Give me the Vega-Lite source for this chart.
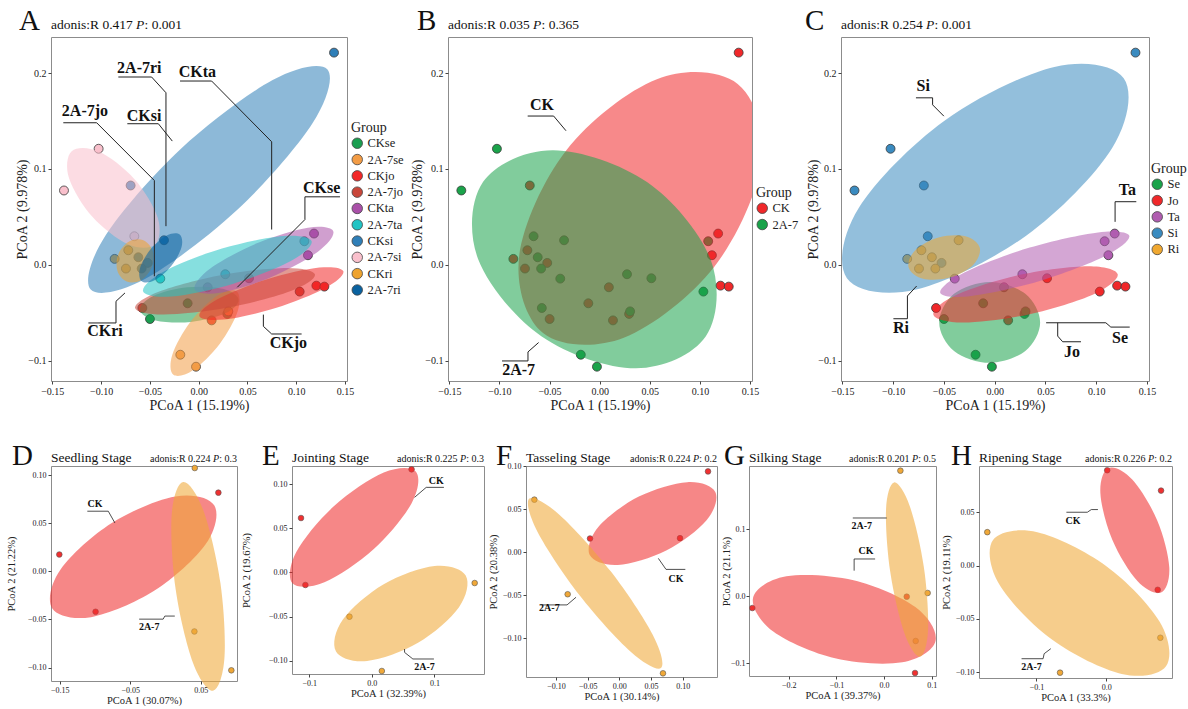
{
"$schema": "https://vega.github.io/schema/vega-lite/v6.json",
"padding": {"left": 5, "top": 6, "right": 0, "bottom": 0},
"background": "white",
"config": {
 "font": "Liberation Serif",
 "view": {"stroke": "#8c8c8c", "strokeWidth": 1},
 "axis": {"grid": false, "domain": false, "tickColor": "#444", "tickSize": 3, "labelColor": "#222", "titleColor": "#222", "titleFontWeight": "normal", "labelFont": "Liberation Serif", "titleFont": "Liberation Serif", "labelPadding": 2, "titlePadding": 2},
 "legend": {"titleFont": "Liberation Serif", "labelFont": "Liberation Serif", "titleFontWeight": "normal", "titleColor": "#222", "labelColor": "#222", "offset": 4, "padding": 0, "layout": {"right": {"anchor": "middle"}}},
 "text": {"font": "Liberation Serif", "color": "#111"}
},
"datasets": {
 "pts": [
  {"grp":"CKse","trt":"CK","stg":"Se","x":-0.0113,"y":-0.0400},
  {"grp":"CKse","trt":"CK","stg":"Se","x":-0.0499,"y":-0.0564},
  {"grp":"CKse","trt":"CK","stg":"Se","x":0.0294,"y":-0.0511},
  {"grp":"2A-7se","trt":"2A-7","stg":"Se","x":0.0304,"y":-0.0484},
  {"grp":"2A-7se","trt":"2A-7","stg":"Se","x":-0.0188,"y":-0.0936},
  {"grp":"2A-7se","trt":"2A-7","stg":"Se","x":-0.0027,"y":-0.1061},
  {"grp":"CKjo","trt":"CK","stg":"Jo","x":0.1206,"y":-0.0216},
  {"grp":"CKjo","trt":"CK","stg":"Jo","x":0.1288,"y":-0.0226},
  {"grp":"CKjo","trt":"CK","stg":"Jo","x":0.0133,"y":-0.0578},
  {"grp":"2A-7jo","trt":"2A-7","stg":"Jo","x":0.0516,"y":-0.0139},
  {"grp":"2A-7jo","trt":"2A-7","stg":"Jo","x":0.1035,"y":-0.0278},
  {"grp":"2A-7jo","trt":"2A-7","stg":"Jo","x":-0.0577,"y":-0.0449},
  {"grp":"CKta","trt":"CK","stg":"Ta","x":0.1182,"y":0.0327},
  {"grp":"CKta","trt":"CK","stg":"Ta","x":0.1120,"y":0.0101},
  {"grp":"CKta","trt":"CK","stg":"Ta","x":0.0092,"y":-0.0233},
  {"grp":"2A-7ta","trt":"2A-7","stg":"Ta","x":-0.0393,"y":-0.0143},
  {"grp":"2A-7ta","trt":"2A-7","stg":"Ta","x":0.0273,"y":-0.0097},
  {"grp":"2A-7ta","trt":"2A-7","stg":"Ta","x":0.1083,"y":0.0247},
  {"grp":"CKsi","trt":"CK","stg":"Si","x":0.1387,"y":0.2213},
  {"grp":"CKsi","trt":"CK","stg":"Si","x":-0.0697,"y":0.0828},
  {"grp":"CKsi","trt":"CK","stg":"Si","x":-0.0523,"y":0.0021},
  {"grp":"2A-7si","trt":"2A-7","stg":"Si","x":-0.1025,"y":0.1211},
  {"grp":"2A-7si","trt":"2A-7","stg":"Si","x":-0.1380,"y":0.0776},
  {"grp":"2A-7si","trt":"2A-7","stg":"Si","x":-0.0659,"y":0.0299},
  {"grp":"CKri","trt":"CK","stg":"Ri","x":-0.0721,"y":0.0153},
  {"grp":"CKri","trt":"CK","stg":"Ri","x":-0.0861,"y":0.0063},
  {"grp":"CKri","trt":"CK","stg":"Ri","x":-0.0745,"y":-0.0038},
  {"grp":"2A-7ri","trt":"2A-7","stg":"Ri","x":-0.0355,"y":0.0257},
  {"grp":"2A-7ri","trt":"2A-7","stg":"Ri","x":-0.0618,"y":0.0080},
  {"grp":"2A-7ri","trt":"2A-7","stg":"Ri","x":-0.0584,"y":-0.0038}
 ],
 "sp": [
  {"p":"D","grp":"CK","x":-0.1505,"y":0.0175},{"p":"D","grp":"CK","x":-0.0991,"y":-0.0420},{"p":"D","grp":"CK","x":0.0750,"y":0.0818},
  {"p":"D","grp":"2A-7","x":0.0415,"y":0.1074},{"p":"D","grp":"2A-7","x":0.0410,"y":-0.0625},{"p":"D","grp":"2A-7","x":0.0934,"y":-0.1029},
  {"p":"E","grp":"CK","x":0.0635,"y":0.1166},{"p":"E","grp":"CK","x":-0.1131,"y":0.0615},{"p":"E","grp":"CK","x":-0.1061,"y":-0.0143},
  {"p":"E","grp":"2A-7","x":0.1643,"y":-0.0121},{"p":"E","grp":"2A-7","x":-0.0357,"y":-0.0502},{"p":"E","grp":"2A-7","x":0.0160,"y":-0.1117},
  {"p":"F","grp":"CK","x":0.1400,"y":0.0942},{"p":"F","grp":"CK","x":-0.0463,"y":0.0162},{"p":"F","grp":"CK","x":0.0958,"y":0.0166},
  {"p":"F","grp":"2A-7","x":-0.1342,"y":0.0614},{"p":"F","grp":"2A-7","x":-0.0816,"y":-0.0486},{"p":"F","grp":"2A-7","x":0.0689,"y":-0.1405},
  {"p":"G","grp":"CK","x":-0.2763,"y":-0.0175},{"p":"G","grp":"CK","x":0.0649,"y":-0.1147},{"p":"G","grp":"CK","x":0.0475,"y":-0.0005},
  {"p":"G","grp":"2A-7","x":0.0342,"y":0.1880},{"p":"G","grp":"2A-7","x":0.0914,"y":0.0050},{"p":"G","grp":"2A-7","x":0.0663,"y":-0.0668},
  {"p":"H","grp":"CK","x":0.0014,"y":0.0894},{"p":"H","grp":"CK","x":0.0786,"y":0.0703},{"p":"H","grp":"CK","x":0.0738,"y":-0.0228},
  {"p":"H","grp":"2A-7","x":-0.1705,"y":0.0313},{"p":"H","grp":"2A-7","x":0.0776,"y":-0.0678},{"p":"H","grp":"2A-7","x":-0.0662,"y":-0.1006}
 ],
 "ell": [
  {"p":"A","grp":"CKse","k":0,"x":0.0409,"y":-0.0362},{"p":"A","grp":"CKse","k":1,"x":0.0273,"y":-0.0505},{"p":"A","grp":"CKse","k":2,"x":-0.0079,"y":-0.0595},{"p":"A","grp":"CKse","k":3,"x":-0.0441,"y":-0.0579},{"p":"A","grp":"CKse","k":4,"x":-0.0601,"y":-0.0466},{"p":"A","grp":"CKse","k":5,"x":-0.0465,"y":-0.0323},{"p":"A","grp":"CKse","k":6,"x":-0.0113,"y":-0.0233},{"p":"A","grp":"CKse","k":7,"x":0.0249,"y":-0.0249},
  {"p":"A","grp":"2A-7se","k":0,"x":0.0389,"y":-0.0275},{"p":"A","grp":"2A-7se","k":1,"x":0.0400,"y":-0.0484},{"p":"A","grp":"2A-7se","k":2,"x":0.0215,"y":-0.0825},{"p":"A","grp":"2A-7se","k":3,"x":-0.0058,"y":-0.1099},{"p":"A","grp":"2A-7se","k":4,"x":-0.0259,"y":-0.1145},{"p":"A","grp":"2A-7se","k":5,"x":-0.0270,"y":-0.0936},{"p":"A","grp":"2A-7se","k":6,"x":-0.0085,"y":-0.0595},{"p":"A","grp":"2A-7se","k":7,"x":0.0188,"y":-0.0321},
  {"p":"A","grp":"CKjo","k":0,"x":0.1483,"y":-0.0066},{"p":"A","grp":"CKjo","k":1,"x":0.1298,"y":-0.0240},{"p":"A","grp":"CKjo","k":2,"x":0.0789,"y":-0.0449},{"p":"A","grp":"CKjo","k":3,"x":0.0254,"y":-0.0570},{"p":"A","grp":"CKjo","k":4,"x":0.0007,"y":-0.0532},{"p":"A","grp":"CKjo","k":5,"x":0.0192,"y":-0.0358},{"p":"A","grp":"CKjo","k":6,"x":0.0701,"y":-0.0149},{"p":"A","grp":"CKjo","k":7,"x":0.1236,"y":-0.0028},
  {"p":"A","grp":"2A-7jo","k":0,"x":0.1192,"y":-0.0101},{"p":"A","grp":"2A-7jo","k":1,"x":0.0944,"y":-0.0272},{"p":"A","grp":"2A-7jo","k":2,"x":0.0301,"y":-0.0445},{"p":"A","grp":"2A-7jo","k":3,"x":-0.0360,"y":-0.0518},{"p":"A","grp":"2A-7jo","k":4,"x":-0.0652,"y":-0.0449},{"p":"A","grp":"2A-7jo","k":5,"x":-0.0404,"y":-0.0278},{"p":"A","grp":"2A-7jo","k":6,"x":0.0239,"y":-0.0105},{"p":"A","grp":"2A-7jo","k":7,"x":0.0900,"y":-0.0032},
  {"p":"A","grp":"CKta","k":0,"x":0.1379,"y":0.0352},{"p":"A","grp":"CKta","k":1,"x":0.1222,"y":0.0138},{"p":"A","grp":"CKta","k":2,"x":0.0741,"y":-0.0128},{"p":"A","grp":"CKta","k":3,"x":0.0218,"y":-0.0290},{"p":"A","grp":"CKta","k":4,"x":-0.0041,"y":-0.0254},{"p":"A","grp":"CKta","k":5,"x":0.0116,"y":-0.0040},{"p":"A","grp":"CKta","k":6,"x":0.0597,"y":0.0226},{"p":"A","grp":"CKta","k":7,"x":0.1120,"y":0.0388},
  {"p":"A","grp":"2A-7ta","k":0,"x":0.1158,"y":0.0247},{"p":"A","grp":"2A-7ta","k":1,"x":0.0944,"y":0.0040},{"p":"A","grp":"2A-7ta","k":2,"x":0.0349,"y":-0.0198},{"p":"A","grp":"2A-7ta","k":3,"x":-0.0278,"y":-0.0329},{"p":"A","grp":"2A-7ta","k":4,"x":-0.0570,"y":-0.0275},{"p":"A","grp":"2A-7ta","k":5,"x":-0.0356,"y":-0.0068},{"p":"A","grp":"2A-7ta","k":6,"x":0.0239,"y":0.0170},{"p":"A","grp":"2A-7ta","k":7,"x":0.0866,"y":0.0301},
  {"p":"A","grp":"CKsi","k":0,"x":0.1318,"y":0.2039},{"p":"A","grp":"CKsi","k":1,"x":0.1168,"y":0.1479},{"p":"A","grp":"CKsi","k":2,"x":0.0396,"y":0.0574},{"p":"A","grp":"CKsi","k":3,"x":-0.0546,"y":-0.0145},{"p":"A","grp":"CKsi","k":4,"x":-0.1106,"y":-0.0257},{"p":"A","grp":"CKsi","k":5,"x":-0.0956,"y":0.0303},{"p":"A","grp":"CKsi","k":6,"x":-0.0184,"y":0.1208},{"p":"A","grp":"CKsi","k":7,"x":0.0758,"y":0.1927},
  {"p":"A","grp":"2A-7si","k":0,"x":-0.0447,"y":0.0212},{"p":"A","grp":"2A-7si","k":1,"x":-0.0420,"y":0.0495},{"p":"A","grp":"2A-7si","k":2,"x":-0.0659,"y":0.0897},{"p":"A","grp":"2A-7si","k":3,"x":-0.1024,"y":0.1183},{"p":"A","grp":"2A-7si","k":4,"x":-0.1301,"y":0.1186},{"p":"A","grp":"2A-7si","k":5,"x":-0.1328,"y":0.0903},{"p":"A","grp":"2A-7si","k":6,"x":-0.1089,"y":0.0501},{"p":"A","grp":"2A-7si","k":7,"x":-0.0724,"y":0.0215},
  {"p":"A","grp":"CKri","k":0,"x":-0.0567,"y":0.0258},{"p":"A","grp":"CKri","k":1,"x":-0.0471,"y":0.0145},{"p":"A","grp":"CKri","k":2,"x":-0.0481,"y":-0.0028},{"p":"A","grp":"CKri","k":3,"x":-0.0591,"y":-0.0160},{"p":"A","grp":"CKri","k":4,"x":-0.0737,"y":-0.0174},{"p":"A","grp":"CKri","k":5,"x":-0.0833,"y":-0.0061},{"p":"A","grp":"CKri","k":6,"x":-0.0823,"y":0.0112},{"p":"A","grp":"CKri","k":7,"x":-0.0713,"y":0.0244},
  {"p":"A","grp":"2A-7ri","k":0,"x":-0.0194,"y":0.0317},{"p":"A","grp":"2A-7ri","k":1,"x":-0.0176,"y":0.0184},{"p":"A","grp":"2A-7ri","k":2,"x":-0.0283,"y":-0.0014},{"p":"A","grp":"2A-7ri","k":3,"x":-0.0452,"y":-0.0161},{"p":"A","grp":"2A-7ri","k":4,"x":-0.0584,"y":-0.0171},{"p":"A","grp":"2A-7ri","k":5,"x":-0.0602,"y":-0.0038},{"p":"A","grp":"2A-7ri","k":6,"x":-0.0495,"y":0.0160},{"p":"A","grp":"2A-7ri","k":7,"x":-0.0326,"y":0.0307},
  {"p":"B","grp":"CK","k":0,"x":0.1377,"y":0.1887},{"p":"B","grp":"CK","k":1,"x":0.1614,"y":0.1078},{"p":"B","grp":"CK","k":2,"x":0.1144,"y":-0.0018},{"p":"B","grp":"CK","k":3,"x":0.0241,"y":-0.0758},{"p":"B","grp":"CK","k":4,"x":-0.0565,"y":-0.0709},{"p":"B","grp":"CK","k":5,"x":-0.0802,"y":0.0100},{"p":"B","grp":"CK","k":6,"x":-0.0332,"y":0.1196},{"p":"B","grp":"CK","k":7,"x":0.0571,"y":0.1936},
  {"p":"B","grp":"2A-7","k":0,"x":0.1058,"y":-0.0747},{"p":"B","grp":"2A-7","k":1,"x":0.0359,"y":-0.1078},{"p":"B","grp":"2A-7","k":2,"x":-0.0582,"y":-0.0743},{"p":"B","grp":"2A-7","k":3,"x":-0.1213,"y":0.0062},{"p":"B","grp":"2A-7","k":4,"x":-0.1164,"y":0.0865},{"p":"B","grp":"2A-7","k":5,"x":-0.0465,"y":0.1196},{"p":"B","grp":"2A-7","k":6,"x":0.0476,"y":0.0861},{"p":"B","grp":"2A-7","k":7,"x":0.1107,"y":0.0056},
  {"p":"C","grp":"Se","k":0,"x":0.0448,"y":-0.0599},{"p":"C","grp":"Se","k":1,"x":0.0302,"y":-0.0897},{"p":"C","grp":"Se","k":2,"x":-0.0049,"y":-0.1021},{"p":"C","grp":"Se","k":3,"x":-0.0400,"y":-0.0897},{"p":"C","grp":"Se","k":4,"x":-0.0546,"y":-0.0599},{"p":"C","grp":"Se","k":5,"x":-0.0400,"y":-0.0301},{"p":"C","grp":"Se","k":6,"x":-0.0049,"y":-0.0177},{"p":"C","grp":"Se","k":7,"x":0.0302,"y":-0.0301},
  {"p":"C","grp":"Jo","k":0,"x":0.1212,"y":-0.0098},{"p":"C","grp":"Jo","k":1,"x":0.0976,"y":-0.0305},{"p":"C","grp":"Jo","k":2,"x":0.0346,"y":-0.0513},{"p":"C","grp":"Jo","k":3,"x":-0.0308,"y":-0.0600},{"p":"C","grp":"Jo","k":4,"x":-0.0604,"y":-0.0516},{"p":"C","grp":"Jo","k":5,"x":-0.0368,"y":-0.0309},{"p":"C","grp":"Jo","k":6,"x":0.0262,"y":-0.0101},{"p":"C","grp":"Jo","k":7,"x":0.0916,"y":-0.0014},
  {"p":"C","grp":"Ta","k":0,"x":0.1326,"y":0.0303},{"p":"C","grp":"Ta","k":1,"x":0.1088,"y":0.0093},{"p":"C","grp":"Ta","k":2,"x":0.0444,"y":-0.0167},{"p":"C","grp":"Ta","k":3,"x":-0.0229,"y":-0.0325},{"p":"C","grp":"Ta","k":4,"x":-0.0536,"y":-0.0289},{"p":"C","grp":"Ta","k":5,"x":-0.0298,"y":-0.0079},{"p":"C","grp":"Ta","k":6,"x":0.0346,"y":0.0181},{"p":"C","grp":"Ta","k":7,"x":0.1019,"y":0.0339},
  {"p":"C","grp":"Si","k":0,"x":0.1271,"y":0.1946},{"p":"C","grp":"Si","k":1,"x":0.1156,"y":0.1217},{"p":"C","grp":"Si","k":2,"x":0.0310,"y":0.0305},{"p":"C","grp":"Si","k":3,"x":-0.0772,"y":-0.0256},{"p":"C","grp":"Si","k":4,"x":-0.1455,"y":-0.0138},{"p":"C","grp":"Si","k":5,"x":-0.1340,"y":0.0591},{"p":"C","grp":"Si","k":6,"x":-0.0494,"y":0.1503},{"p":"C","grp":"Si","k":7,"x":0.0588,"y":0.2064},
  {"p":"C","grp":"Ri","k":0,"x":-0.0147,"y":0.0182},{"p":"C","grp":"Ri","k":1,"x":-0.0210,"y":0.0003},{"p":"C","grp":"Ri","k":2,"x":-0.0441,"y":-0.0132},{"p":"C","grp":"Ri","k":3,"x":-0.0705,"y":-0.0145},{"p":"C","grp":"Ri","k":4,"x":-0.0847,"y":-0.0028},{"p":"C","grp":"Ri","k":5,"x":-0.0784,"y":0.0151},{"p":"C","grp":"Ri","k":6,"x":-0.0553,"y":0.0286},{"p":"C","grp":"Ri","k":7,"x":-0.0289,"y":0.0299},
  {"p":"D","grp":"CK","k":0,"x":0.0691,"y":0.0686},{"p":"D","grp":"CK","k":1,"x":0.0569,"y":0.0281},{"p":"D","grp":"CK","k":2,"x":-0.0155,"y":-0.0200},{"p":"D","grp":"CK","k":3,"x":-0.1056,"y":-0.0476},{"p":"D","grp":"CK","k":4,"x":-0.1607,"y":-0.0384},{"p":"D","grp":"CK","k":5,"x":-0.1485,"y":0.0021},{"p":"D","grp":"CK","k":6,"x":-0.0761,"y":0.0502},{"p":"D","grp":"CK","k":7,"x":0.0140,"y":0.0778},
  {"p":"D","grp":"2A-7","k":0,"x":0.0250,"y":0.0929},{"p":"D","grp":"2A-7","k":1,"x":0.0536,"y":0.0635},{"p":"D","grp":"2A-7","k":2,"x":0.0779,"y":-0.0122},{"p":"D","grp":"2A-7","k":3,"x":0.0836,"y":-0.0899},{"p":"D","grp":"2A-7","k":4,"x":0.0674,"y":-0.1241},{"p":"D","grp":"2A-7","k":5,"x":0.0388,"y":-0.0947},{"p":"D","grp":"2A-7","k":6,"x":0.0145,"y":-0.0190},{"p":"D","grp":"2A-7","k":7,"x":0.0088,"y":0.0587},
  {"p":"E","grp":"CK","k":0,"x":0.0702,"y":0.1142},{"p":"E","grp":"CK","k":1,"x":0.0636,"y":0.0783},{"p":"E","grp":"CK","k":2,"x":0.0032,"y":0.0264},{"p":"E","grp":"CK","k":3,"x":-0.0757,"y":-0.0112},{"p":"E","grp":"CK","k":4,"x":-0.1268,"y":-0.0124},{"p":"E","grp":"CK","k":5,"x":-0.1202,"y":0.0235},{"p":"E","grp":"CK","k":6,"x":-0.0598,"y":0.0754},{"p":"E","grp":"CK","k":7,"x":0.0191,"y":0.1130},
  {"p":"E","grp":"2A-7","k":0,"x":0.1500,"y":-0.0037},{"p":"E","grp":"2A-7","k":1,"x":0.1390,"y":-0.0397},{"p":"E","grp":"2A-7","k":2,"x":0.0738,"y":-0.0797},{"p":"E","grp":"2A-7","k":3,"x":-0.0075,"y":-0.1003},{"p":"E","grp":"2A-7","k":4,"x":-0.0572,"y":-0.0895},{"p":"E","grp":"2A-7","k":5,"x":-0.0462,"y":-0.0535},{"p":"E","grp":"2A-7","k":6,"x":0.0190,"y":-0.0135},{"p":"E","grp":"2A-7","k":7,"x":0.1003,"y":0.0071},
  {"p":"F","grp":"CK","k":0,"x":0.1515,"y":0.0703},{"p":"F","grp":"CK","k":1,"x":0.1377,"y":0.0374},{"p":"F","grp":"CK","k":2,"x":0.0740,"y":0.0023},{"p":"F","grp":"CK","k":3,"x":-0.0024,"y":-0.0145},{"p":"F","grp":"CK","k":4,"x":-0.0467,"y":-0.0031},{"p":"F","grp":"CK","k":5,"x":-0.0329,"y":0.0298},{"p":"F","grp":"CK","k":6,"x":0.0308,"y":0.0649},{"p":"F","grp":"CK","k":7,"x":0.1072,"y":0.0817},
  {"p":"F","grp":"2A-7","k":0,"x":-0.1421,"y":0.0626},{"p":"F","grp":"2A-7","k":1,"x":-0.0943,"y":0.0436},{"p":"F","grp":"2A-7","k":2,"x":-0.0136,"y":-0.0220},{"p":"F","grp":"2A-7","k":3,"x":0.0527,"y":-0.0957},{"p":"F","grp":"2A-7","k":4,"x":0.0657,"y":-0.1344},{"p":"F","grp":"2A-7","k":5,"x":0.0179,"y":-0.1154},{"p":"F","grp":"2A-7","k":6,"x":-0.0628,"y":-0.0498},{"p":"F","grp":"2A-7","k":7,"x":-0.1291,"y":0.0239},
  {"p":"G","grp":"CK","k":0,"x":0.1079,"y":-0.0669},{"p":"G","grp":"CK","k":1,"x":0.0382,"y":-0.0987},{"p":"G","grp":"CK","k":2,"x":-0.1028,"y":-0.0928},{"p":"G","grp":"CK","k":3,"x":-0.2324,"y":-0.0527},{"p":"G","grp":"CK","k":4,"x":-0.2747,"y":-0.0019},{"p":"G","grp":"CK","k":5,"x":-0.2050,"y":0.0299},{"p":"G","grp":"CK","k":6,"x":-0.0640,"y":0.0240},{"p":"G","grp":"CK","k":7,"x":0.0656,"y":-0.0161},
  {"p":"G","grp":"2A-7","k":0,"x":0.0210,"y":0.1705},{"p":"G","grp":"2A-7","k":1,"x":0.0539,"y":0.1349},{"p":"G","grp":"2A-7","k":2,"x":0.0834,"y":0.0438},{"p":"G","grp":"2A-7","k":3,"x":0.0923,"y":-0.0495},{"p":"G","grp":"2A-7","k":4,"x":0.0754,"y":-0.0903},{"p":"G","grp":"2A-7","k":5,"x":0.0425,"y":-0.0547},{"p":"G","grp":"2A-7","k":6,"x":0.0130,"y":0.0364},{"p":"G","grp":"2A-7","k":7,"x":0.0041,"y":0.1297},
  {"p":"H","grp":"CK","k":0,"x":0.0786,"y":-0.0253},{"p":"H","grp":"CK","k":1,"x":0.0447,"y":-0.0145},{"p":"H","grp":"CK","k":2,"x":0.0087,"y":0.0242},{"p":"H","grp":"CK","k":3,"x":-0.0084,"y":0.0681},{"p":"H","grp":"CK","k":4,"x":0.0034,"y":0.0915},{"p":"H","grp":"CK","k":5,"x":0.0373,"y":0.0807},{"p":"H","grp":"CK","k":6,"x":0.0733,"y":0.0420},{"p":"H","grp":"CK","k":7,"x":0.0904,"y":-0.0019},
  {"p":"H","grp":"2A-7","k":0,"x":0.0857,"y":-0.0946},{"p":"H","grp":"2A-7","k":1,"x":0.0222,"y":-0.1018},{"p":"H","grp":"2A-7","k":2,"x":-0.0768,"y":-0.0700},{"p":"H","grp":"2A-7","k":3,"x":-0.1532,"y":-0.0179},{"p":"H","grp":"2A-7","k":4,"x":-0.1623,"y":0.0240},{"p":"H","grp":"2A-7","k":5,"x":-0.0988,"y":0.0312},{"p":"H","grp":"2A-7","k":6,"x":0.0002,"y":-0.0006},{"p":"H","grp":"2A-7","k":7,"x":0.0766,"y":-0.0527}
 ],
 "ldr": [
  {"p":"A","g":"2A-7ri","k":0,"x":-0.0823,"y":0.1959},{"p":"A","g":"2A-7ri","k":1,"x":-0.0482,"y":0.1959},{"p":"A","g":"2A-7ri","k":2,"x":-0.0335,"y":0.1795},{"p":"A","g":"2A-7ri","k":3,"x":-0.0335,"y":0.0404},
  {"p":"A","g":"CKta","k":0,"x":-0.0191,"y":0.1917},{"p":"A","g":"CKta","k":1,"x":0.0133,"y":0.1917},{"p":"A","g":"CKta","k":2,"x":0.0748,"y":0.1284},{"p":"A","g":"CKta","k":3,"x":0.0748,"y":0.0369},
  {"p":"A","g":"2A-7jo","k":0,"x":-0.1387,"y":0.1482},{"p":"A","g":"2A-7jo","k":1,"x":-0.1045,"y":0.1482},{"p":"A","g":"2A-7jo","k":2,"x":-0.0454,"y":0.0880},{"p":"A","g":"2A-7jo","k":3,"x":-0.0454,"y":-0.0118},
  {"p":"A","g":"CKsi","k":0,"x":-0.0731,"y":0.1472},{"p":"A","g":"CKsi","k":1,"x":-0.0413,"y":0.1472},{"p":"A","g":"CKsi","k":2,"x":-0.0270,"y":0.1291},
  {"p":"A","g":"CKse","k":0,"x":0.1448,"y":0.0710},{"p":"A","g":"CKse","k":1,"x":0.1089,"y":0.0710},{"p":"A","g":"CKse","k":2,"x":0.1089,"y":0.0473},{"p":"A","g":"CKse","k":3,"x":0.0396,"y":-0.0233},
  {"p":"A","g":"CKri","k":0,"x":-0.1130,"y":-0.0605},{"p":"A","g":"CKri","k":1,"x":-0.0847,"y":-0.0605},{"p":"A","g":"CKri","k":2,"x":-0.0847,"y":-0.0379},{"p":"A","g":"CKri","k":3,"x":-0.0755,"y":-0.0292},
  {"p":"A","g":"CKjo","k":0,"x":0.1055,"y":-0.0720},{"p":"A","g":"CKjo","k":1,"x":0.0748,"y":-0.0720},{"p":"A","g":"CKjo","k":2,"x":0.0663,"y":-0.0640},{"p":"A","g":"CKjo","k":3,"x":0.0663,"y":-0.0518},
  {"p":"B","g":"CK","k":0,"x":-0.0718,"y":0.1552},{"p":"B","g":"CK","k":1,"x":-0.0459,"y":0.1552},{"p":"B","g":"CK","k":2,"x":-0.0336,"y":0.1399},
  {"p":"B","g":"2A-7","k":0,"x":-0.0974,"y":-0.1001},{"p":"B","g":"2A-7","k":1,"x":-0.0715,"y":-0.1001},{"p":"B","g":"2A-7","k":2,"x":-0.0715,"y":-0.0907},{"p":"B","g":"2A-7","k":3,"x":-0.0609,"y":-0.0809},
  {"p":"C","g":"Si","k":0,"x":-0.0775,"y":0.1742},{"p":"C","g":"Si","k":1,"x":-0.0611,"y":0.1742},{"p":"C","g":"Si","k":2,"x":-0.0611,"y":0.1669},{"p":"C","g":"Si","k":3,"x":-0.0500,"y":0.1551},
  {"p":"C","g":"Ta","k":0,"x":0.1395,"y":0.0659},{"p":"C","g":"Ta","k":1,"x":0.1186,"y":0.0659},{"p":"C","g":"Ta","k":2,"x":0.1186,"y":0.0449},
  {"p":"C","g":"Ri","k":0,"x":-0.0997,"y":-0.0561},{"p":"C","g":"Ri","k":1,"x":-0.0859,"y":-0.0561},{"p":"C","g":"Ri","k":2,"x":-0.0859,"y":-0.0324},{"p":"C","g":"Ri","k":3,"x":-0.0768,"y":-0.0220},
  {"p":"C","g":"Se","k":0,"x":0.1330,"y":-0.0648},{"p":"C","g":"Se","k":1,"x":0.1144,"y":-0.0648},{"p":"C","g":"Se","k":2,"x":0.1095,"y":-0.0603},{"p":"C","g":"Se","k":3,"x":0.0507,"y":-0.0603},
  {"p":"C","g":"Jo","k":0,"x":0.0850,"y":-0.0801},{"p":"C","g":"Jo","k":1,"x":0.0670,"y":-0.0801},{"p":"C","g":"Jo","k":2,"x":0.0621,"y":-0.0742},{"p":"C","g":"Jo","k":3,"x":0.0621,"y":-0.0603},
  {"p":"D","g":"CK","k":0,"x":-0.1108,"y":0.0625},{"p":"D","g":"CK","k":1,"x":-0.0811,"y":0.0625},{"p":"D","g":"CK","k":2,"x":-0.0717,"y":0.0503},
  {"p":"D","g":"2A-7","k":0,"x":-0.0373,"y":-0.0497},{"p":"D","g":"2A-7","k":1,"x":-0.0033,"y":-0.0497},{"p":"D","g":"2A-7","k":2,"x":-0.0009,"y":-0.0465},{"p":"D","g":"2A-7","k":3,"x":0.0132,"y":-0.0465},
  {"p":"E","g":"CK","k":0,"x":0.1152,"y":0.0962},{"p":"E","g":"CK","k":1,"x":0.0869,"y":0.0962},{"p":"E","g":"CK","k":2,"x":0.0683,"y":0.0849},
  {"p":"E","g":"2A-7","k":0,"x":0.0992,"y":-0.0981},{"p":"E","g":"2A-7","k":1,"x":0.0656,"y":-0.0981},{"p":"E","g":"2A-7","k":2,"x":0.0523,"y":-0.0906},{"p":"E","g":"2A-7","k":3,"x":0.0523,"y":-0.0868},
  {"p":"F","g":"CK","k":0,"x":0.1042,"y":-0.0197},{"p":"F","g":"CK","k":1,"x":0.0737,"y":-0.0197},{"p":"F","g":"CK","k":2,"x":0.0616,"y":-0.0069},
  {"p":"F","g":"2A-7","k":0,"x":-0.1247,"y":-0.0610},{"p":"F","g":"2A-7","k":1,"x":-0.0826,"y":-0.0610},{"p":"F","g":"2A-7","k":2,"x":-0.0684,"y":-0.0521},
  {"p":"G","g":"2A-7","k":0,"x":-0.0656,"y":0.1172},{"p":"G","g":"2A-7","k":1,"x":0.0056,"y":0.1172},
  {"p":"G","g":"CK","k":0,"x":-0.0628,"y":0.0384},{"p":"G","g":"CK","k":1,"x":-0.0628,"y":0.0559},{"p":"G","g":"CK","k":2,"x":-0.0188,"y":0.0559},
  {"p":"H","g":"CK","k":0,"x":-0.0571,"y":0.0500},{"p":"H","g":"CK","k":1,"x":-0.0271,"y":0.0500},{"p":"H","g":"CK","k":2,"x":-0.0214,"y":0.0525},{"p":"H","g":"CK","k":3,"x":-0.0119,"y":0.0525},
  {"p":"H","g":"2A-7","k":0,"x":-0.1214,"y":-0.0875},{"p":"H","g":"2A-7","k":1,"x":-0.0905,"y":-0.0875},{"p":"H","g":"2A-7","k":2,"x":-0.0890,"y":-0.0828},{"p":"H","g":"2A-7","k":3,"x":-0.0795,"y":-0.0781}
 ],
 "lab": [
  {"p":"A","t":"2A-7ri","x":-0.0608,"y":0.2056},{"p":"A","t":"CKta","x":-0.0014,"y":0.2015},{"p":"A","t":"2A-7jo","x":-0.1165,"y":0.1604},{"p":"A","t":"CKsi","x":-0.0560,"y":0.1552},{"p":"A","t":"CKse","x":0.1260,"y":0.0804},{"p":"A","t":"CKri","x":-0.0960,"y":-0.0692},{"p":"A","t":"CKjo","x":0.0919,"y":-0.0814},
  {"p":"B","t":"CK","x":-0.0575,"y":0.1667},{"p":"B","t":"2A-7","x":-0.0808,"y":-0.1099},
  {"p":"C","t":"Si","x":-0.0703,"y":0.1864},{"p":"C","t":"Ta","x":0.1307,"y":0.0784},{"p":"C","t":"Ri","x":-0.0922,"y":-0.0655},{"p":"C","t":"Se","x":0.1235,"y":-0.0760},{"p":"C","t":"Jo","x":0.0761,"y":-0.0909},
  {"p":"D","t":"CK","x":-0.1000,"y":0.0697},{"p":"D","t":"2A-7","x":-0.0231,"y":-0.0583},
  {"p":"E","t":"CK","x":0.1029,"y":0.1030},{"p":"E","t":"2A-7","x":0.0843,"y":-0.1075},
  {"p":"F","t":"CK","x":0.0895,"y":-0.0313},{"p":"F","t":"2A-7","x":-0.1105,"y":-0.0649},
  {"p":"G","t":"2A-7","x":-0.0468,"y":0.1057},{"p":"G","t":"CK","x":-0.0377,"y":0.0673},
  {"p":"H","t":"CK","x":-0.0476,"y":0.0422},{"p":"H","t":"2A-7","x":-0.1071,"y":-0.0953}
 ],
 "ttl": [
  {"p":"A","L":"A","a1":"adonis:R 0.417","pp":"P","a3":": 0.001","st":""},
  {"p":"B","L":"B","a1":"adonis:R 0.035","pp":"P","a3":": 0.365","st":""},
  {"p":"C","L":"C","a1":"adonis:R 0.254","pp":"P","a3":": 0.001","st":""},
  {"p":"D","L":"D","a1":"adonis:R 0.224","pp":"P","a3":": 0.3","st":"Seedling Stage"},
  {"p":"E","L":"E","a1":"adonis:R 0.225","pp":"P","a3":": 0.3","st":"Jointing Stage"},
  {"p":"F","L":"F","a1":"adonis:R 0.224","pp":"P","a3":": 0.2","st":"Tasseling Stage"},
  {"p":"G","L":"G","a1":"adonis:R 0.201","pp":"P","a3":": 0.5","st":"Silking Stage"},
  {"p":"H","L":"H","a1":"adonis:R 0.226","pp":"P","a3":": 0.2","st":"Ripening Stage"}
 ]
},
"spacing": 28,
"resolve": {"scale": {"fill": "independent"}, "legend": {"fill": "independent"}},
"vconcat": [
 {"hconcat": [
  {"width": 296, "height": 344,
   "layer": [
    {"data": {"name": "pts"}, "mark": {"type": "point", "shape": "circle", "filled": true, "size": 80, "stroke": "#3a3a3a", "strokeWidth": 0.8, "opacity": 1},
     "encoding": {
      "x": {"field": "x", "type": "quantitative", "scale": {"domain": [-0.1513, 0.152], "nice": false, "zero": false}, "axis": {"title": "PCoA 1 (15.19%)", "values": [-0.15,-0.1,-0.05,0,0.05,0.1,0.15], "format": ".2f", "labelFontSize": 10, "titleFontSize": 14}},
      "y": {"field": "y", "type": "quantitative", "scale": {"domain": [-0.121, 0.2376], "nice": false, "zero": false}, "axis": {"title": "PCoA 2 (9.978%)", "values": [-0.1,0,0.1,0.2], "format": ".1f", "labelFontSize": 10, "titleFontSize": 14, "minExtent": 20, "maxExtent": 20}},
      "fill": {"field": "grp", "type": "nominal", "scale": {"domain": ["CKse","2A-7se","CKjo","2A-7jo","CKta","2A-7ta","CKsi","2A-7si","CKri","2A-7ri"], "range": ["#1a9e50","#f39c45","#f22727","#c9473a","#a950a8","#22c4c4","#2f7fb8","#f9c0cc","#eea32e","#0a62a0"]},
      "legend": {"title": "Group", "symbolType": "circle", "symbolSize": 110, "symbolStrokeColor": "#444", "symbolStrokeWidth": 0.8, "symbolOpacity": 1, "labelFontSize": 12.5, "titleFontSize": 14, "rowPadding": 1.3, "titlePadding": 2}}}},
    {"data": {"name": "ell"}, "transform": [{"filter": "datum.p == 'A'"}], "mark": {"type": "line", "interpolate": "cardinal-closed", "strokeOpacity": 0, "fillOpacity": 0.55},
     "encoding": {"x": {"field": "x", "type": "quantitative"}, "y": {"field": "y", "type": "quantitative"}, "fill": {"field": "grp", "type": "nominal", "legend": null}, "order": {"field": "k", "type": "quantitative"}}},
    {"data": {"name": "ldr"}, "transform": [{"filter": "datum.p == 'A'"}], "mark": {"type": "line", "stroke": "#222", "strokeWidth": 1},
     "encoding": {"x": {"field": "x", "type": "quantitative"}, "y": {"field": "y", "type": "quantitative"}, "detail": {"field": "g"}, "order": {"field": "k", "type": "quantitative"}}},
    {"data": {"name": "lab"}, "transform": [{"filter": "datum.p == 'A'"}], "mark": {"type": "text", "fontSize": 16, "fontWeight": "bold"}, "encoding": {"x": {"field": "x", "type": "quantitative"}, "y": {"field": "y", "type": "quantitative"}, "text": {"field": "t"}}},
    {"data": {"name": "ttl"}, "transform": [{"filter": "datum.p == 'A'"}], "mark": {"type": "text", "align": "left", "baseline": "alphabetic", "dx": -32, "dy": -7, "fontSize": 29}, "encoding": {"x": {"datum": -0.1513, "type": "quantitative"}, "y": {"datum": 0.2376, "type": "quantitative"}, "text": {"field": "L"}}},
    {"data": {"name": "ttl"}, "transform": [{"filter": "datum.p == 'A'"}], "mark": {"type": "text", "align": "left", "baseline": "alphabetic", "dy": -8, "fontSize": 13.5}, "encoding": {"x": {"datum": -0.1513, "type": "quantitative"}, "y": {"datum": 0.2376, "type": "quantitative"}, "text": {"field": "a1"}}},
    {"data": {"name": "ttl"}, "transform": [{"filter": "datum.p == 'A'"}], "mark": {"type": "text", "align": "left", "baseline": "alphabetic", "dy": -8, "dx": 85, "fontSize": 13.5, "fontStyle": "italic"}, "encoding": {"x": {"datum": -0.1513, "type": "quantitative"}, "y": {"datum": 0.2376, "type": "quantitative"}, "text": {"field": "pp"}}},
    {"data": {"name": "ttl"}, "transform": [{"filter": "datum.p == 'A'"}], "mark": {"type": "text", "align": "left", "baseline": "alphabetic", "dy": -8, "dx": 93.5, "fontSize": 13.5}, "encoding": {"x": {"datum": -0.1513, "type": "quantitative"}, "y": {"datum": 0.2376, "type": "quantitative"}, "text": {"field": "a3"}}}
   ]},
  {"width": 304, "height": 344,
   "layer": [
    {"data": {"name": "pts"}, "mark": {"type": "point", "shape": "circle", "filled": true, "size": 80, "stroke": "#3a3a3a", "strokeWidth": 0.8, "opacity": 1},
     "encoding": {
      "x": {"field": "x", "type": "quantitative", "scale": {"domain": [-0.1513, 0.152], "nice": false, "zero": false}, "axis": {"title": "PCoA 1 (15.19%)", "values": [-0.15,-0.1,-0.05,0,0.05,0.1,0.15], "format": ".2f", "labelFontSize": 10, "titleFontSize": 14}},
      "y": {"field": "y", "type": "quantitative", "scale": {"domain": [-0.121, 0.2376], "nice": false, "zero": false}, "axis": {"title": "PCoA 2 (9.978%)", "values": [-0.1,0,0.1,0.2], "format": ".1f", "labelFontSize": 10, "titleFontSize": 14, "minExtent": 22, "maxExtent": 22}},
      "fill": {"field": "trt", "type": "nominal", "scale": {"domain": ["CK","2A-7"], "range": ["#f0282a","#1aa34a"]},
      "legend": {"title": "Group", "symbolType": "circle", "symbolSize": 110, "symbolStrokeColor": "#444", "symbolStrokeWidth": 0.8, "symbolOpacity": 1, "labelFontSize": 12.5, "titleFontSize": 14, "rowPadding": 1.3, "titlePadding": 2}}}},
    {"data": {"name": "ell"}, "transform": [{"filter": "datum.p == 'B'"}], "mark": {"type": "line", "interpolate": "cardinal-closed", "strokeOpacity": 0, "fillOpacity": 0.55, "clip": true},
     "encoding": {"x": {"field": "x", "type": "quantitative"}, "y": {"field": "y", "type": "quantitative"}, "fill": {"field": "grp", "type": "nominal", "legend": null}, "order": {"field": "k", "type": "quantitative"}}},
    {"data": {"name": "ldr"}, "transform": [{"filter": "datum.p == 'B'"}], "mark": {"type": "line", "stroke": "#222", "strokeWidth": 1},
     "encoding": {"x": {"field": "x", "type": "quantitative"}, "y": {"field": "y", "type": "quantitative"}, "detail": {"field": "g"}, "order": {"field": "k", "type": "quantitative"}}},
    {"data": {"name": "lab"}, "transform": [{"filter": "datum.p == 'B'"}], "mark": {"type": "text", "fontSize": 16, "fontWeight": "bold"}, "encoding": {"x": {"field": "x", "type": "quantitative"}, "y": {"field": "y", "type": "quantitative"}, "text": {"field": "t"}}},
    {"data": {"name": "ttl"}, "transform": [{"filter": "datum.p == 'B'"}], "mark": {"type": "text", "align": "left", "baseline": "alphabetic", "dx": -31, "dy": -7, "fontSize": 29}, "encoding": {"x": {"datum": -0.1513, "type": "quantitative"}, "y": {"datum": 0.2376, "type": "quantitative"}, "text": {"field": "L"}}},
    {"data": {"name": "ttl"}, "transform": [{"filter": "datum.p == 'B'"}], "mark": {"type": "text", "align": "left", "baseline": "alphabetic", "dy": -8, "fontSize": 13.5}, "encoding": {"x": {"datum": -0.1513, "type": "quantitative"}, "y": {"datum": 0.2376, "type": "quantitative"}, "text": {"field": "a1"}}},
    {"data": {"name": "ttl"}, "transform": [{"filter": "datum.p == 'B'"}], "mark": {"type": "text", "align": "left", "baseline": "alphabetic", "dy": -8, "dx": 85, "fontSize": 13.5, "fontStyle": "italic"}, "encoding": {"x": {"datum": -0.1513, "type": "quantitative"}, "y": {"datum": 0.2376, "type": "quantitative"}, "text": {"field": "pp"}}},
    {"data": {"name": "ttl"}, "transform": [{"filter": "datum.p == 'B'"}], "mark": {"type": "text", "align": "left", "baseline": "alphabetic", "dy": -8, "dx": 93.5, "fontSize": 13.5}, "encoding": {"x": {"datum": -0.1513, "type": "quantitative"}, "y": {"datum": 0.2376, "type": "quantitative"}, "text": {"field": "a3"}}}
   ]},
  {"width": 308, "height": 344,
   "layer": [
    {"data": {"name": "pts"}, "mark": {"type": "point", "shape": "circle", "filled": true, "size": 80, "stroke": "#3a3a3a", "strokeWidth": 0.8, "opacity": 1},
     "encoding": {
      "x": {"field": "x", "type": "quantitative", "scale": {"domain": [-0.1513, 0.152], "nice": false, "zero": false}, "axis": {"title": "PCoA 1 (15.19%)", "values": [-0.15,-0.1,-0.05,0,0.05,0.1,0.15], "format": ".2f", "labelFontSize": 10, "titleFontSize": 14}},
      "y": {"field": "y", "type": "quantitative", "scale": {"domain": [-0.121, 0.2376], "nice": false, "zero": false}, "axis": {"title": "PCoA 2 (9.978%)", "values": [-0.1,0,0.1,0.2], "format": ".1f", "labelFontSize": 10, "titleFontSize": 14, "minExtent": 19, "maxExtent": 19}},
      "fill": {"field": "stg", "type": "nominal", "scale": {"domain": ["Se","Jo","Ta","Si","Ri"], "range": ["#1aa34a","#f0282a","#b05db0","#3a8bc0","#f0a830"]},
      "legend": {"title": "Group", "offset": 2, "symbolType": "circle", "symbolSize": 110, "symbolStrokeColor": "#444", "symbolStrokeWidth": 0.8, "symbolOpacity": 1, "labelFontSize": 12.5, "titleFontSize": 14, "rowPadding": 1.3, "titlePadding": 2}}}},
    {"data": {"name": "ell"}, "transform": [{"filter": "datum.p == 'C'"}], "mark": {"type": "line", "interpolate": "cardinal-closed", "strokeOpacity": 0, "fillOpacity": 0.55},
     "encoding": {"x": {"field": "x", "type": "quantitative"}, "y": {"field": "y", "type": "quantitative"}, "fill": {"field": "grp", "type": "nominal", "legend": null}, "order": {"field": "k", "type": "quantitative"}}},
    {"data": {"name": "ldr"}, "transform": [{"filter": "datum.p == 'C'"}], "mark": {"type": "line", "stroke": "#222", "strokeWidth": 1},
     "encoding": {"x": {"field": "x", "type": "quantitative"}, "y": {"field": "y", "type": "quantitative"}, "detail": {"field": "g"}, "order": {"field": "k", "type": "quantitative"}}},
    {"data": {"name": "lab"}, "transform": [{"filter": "datum.p == 'C'"}], "mark": {"type": "text", "fontSize": 16, "fontWeight": "bold"}, "encoding": {"x": {"field": "x", "type": "quantitative"}, "y": {"field": "y", "type": "quantitative"}, "text": {"field": "t"}}},
    {"data": {"name": "ttl"}, "transform": [{"filter": "datum.p == 'C'"}], "mark": {"type": "text", "align": "left", "baseline": "alphabetic", "dx": -36, "dy": -7, "fontSize": 29}, "encoding": {"x": {"datum": -0.1513, "type": "quantitative"}, "y": {"datum": 0.2376, "type": "quantitative"}, "text": {"field": "L"}}},
    {"data": {"name": "ttl"}, "transform": [{"filter": "datum.p == 'C'"}], "mark": {"type": "text", "align": "left", "baseline": "alphabetic", "dy": -8, "fontSize": 13.5}, "encoding": {"x": {"datum": -0.1513, "type": "quantitative"}, "y": {"datum": 0.2376, "type": "quantitative"}, "text": {"field": "a1"}}},
    {"data": {"name": "ttl"}, "transform": [{"filter": "datum.p == 'C'"}], "mark": {"type": "text", "align": "left", "baseline": "alphabetic", "dy": -8, "dx": 85, "fontSize": 13.5, "fontStyle": "italic"}, "encoding": {"x": {"datum": -0.1513, "type": "quantitative"}, "y": {"datum": 0.2376, "type": "quantitative"}, "text": {"field": "pp"}}},
    {"data": {"name": "ttl"}, "transform": [{"filter": "datum.p == 'C'"}], "mark": {"type": "text", "align": "left", "baseline": "alphabetic", "dy": -8, "dx": 93.5, "fontSize": 13.5}, "encoding": {"x": {"datum": -0.1513, "type": "quantitative"}, "y": {"datum": 0.2376, "type": "quantitative"}, "text": {"field": "a3"}}}
   ]}
 ], "spacing": 4, "resolve": {"scale": {"fill": "independent"}, "legend": {"fill": "independent"}}},
 {"hconcat": [
  {"width": 186, "height": 215,
   "layer": [
    {"data": {"name": "sp"}, "transform": [{"filter": "datum.p == 'D'"}], "mark": {"type": "point", "shape": "circle", "filled": true, "size": 32, "stroke": "#555", "strokeWidth": 0.6, "opacity": 1},
     "encoding": {
      "x": {"field": "x", "type": "quantitative", "scale": {"domain": [-0.1623, 0.1014], "nice": false, "zero": false}, "axis": {"title": "PCoA 1 (30.07%)", "values": [-0.15,-0.1,-0.05,0,0.05,0.1], "format": ".2f", "labelFontSize": 8, "titleFontSize": 10.5, "titlePadding": 1}},
      "y": {"field": "y", "type": "quantitative", "scale": {"domain": [-0.114, 0.1095], "nice": false, "zero": false}, "axis": {"title": "PCoA 2 (21.22%)", "values": [-0.1,-0.05,0,0.05,0.1], "format": ".2f", "labelFontSize": 8, "titleFontSize": 10.5, "minExtent": 33, "maxExtent": 33}},
      "fill": {"field": "grp", "type": "nominal", "scale": {"domain": ["CK","2A-7"], "range": ["#f03030","#f0a838"]}, "legend": null}}},
    {"data": {"name": "ell"}, "transform": [{"filter": "datum.p == 'D'"}], "mark": {"type": "line", "interpolate": "cardinal-closed", "strokeOpacity": 0, "fillOpacity": 0.58},
     "encoding": {"x": {"field": "x", "type": "quantitative"}, "y": {"field": "y", "type": "quantitative"}, "fill": {"field": "grp", "type": "nominal", "legend": null}, "order": {"field": "k", "type": "quantitative"}}},
    {"data": {"name": "ldr"}, "transform": [{"filter": "datum.p == 'D'"}], "mark": {"type": "line", "stroke": "#222", "strokeWidth": 0.8},
     "encoding": {"x": {"field": "x", "type": "quantitative"}, "y": {"field": "y", "type": "quantitative"}, "detail": {"field": "g"}, "order": {"field": "k", "type": "quantitative"}}},
    {"data": {"name": "lab"}, "transform": [{"filter": "datum.p == 'D'"}], "mark": {"type": "text", "fontSize": 10, "fontWeight": "bold"}, "encoding": {"x": {"field": "x", "type": "quantitative"}, "y": {"field": "y", "type": "quantitative"}, "text": {"field": "t"}}},
    {"data": {"name": "ttl"}, "transform": [{"filter": "datum.p == 'D'"}], "mark": {"type": "text", "align": "left", "baseline": "alphabetic", "dx": -39, "dy": -1, "fontSize": 29}, "encoding": {"x": {"datum": -0.1623, "type": "quantitative"}, "y": {"datum": 0.1095, "type": "quantitative"}, "text": {"field": "L"}}},
    {"data": {"name": "ttl"}, "transform": [{"filter": "datum.p == 'D'"}], "mark": {"type": "text", "align": "left", "baseline": "alphabetic", "dy": -4, "fontSize": 13.5}, "encoding": {"x": {"datum": -0.1623, "type": "quantitative"}, "y": {"datum": 0.1095, "type": "quantitative"}, "text": {"field": "st"}}},
    {"data": {"name": "ttl"}, "transform": [{"filter": "datum.p == 'D'"}], "mark": {"type": "text", "align": "right", "baseline": "alphabetic", "dy": -4, "dx": -26.4, "fontSize": 10}, "encoding": {"x": {"datum": 0.1014, "type": "quantitative"}, "y": {"datum": 0.1095, "type": "quantitative"}, "text": {"field": "a1"}}},
    {"data": {"name": "ttl"}, "transform": [{"filter": "datum.p == 'D'"}], "mark": {"type": "text", "align": "right", "baseline": "alphabetic", "dy": -4, "dx": -17.8, "fontSize": 10, "fontStyle": "italic"}, "encoding": {"x": {"datum": 0.1014, "type": "quantitative"}, "y": {"datum": 0.1095, "type": "quantitative"}, "text": {"field": "pp"}}},
    {"data": {"name": "ttl"}, "transform": [{"filter": "datum.p == 'D'"}], "mark": {"type": "text", "align": "right", "baseline": "alphabetic", "dy": -4, "fontSize": 10}, "encoding": {"x": {"datum": 0.1014, "type": "quantitative"}, "y": {"datum": 0.1095, "type": "quantitative"}, "text": {"field": "a3"}}}
   ]},
  {"width": 192, "height": 208,
   "layer": [
    {"data": {"name": "sp"}, "transform": [{"filter": "datum.p == 'E'"}], "mark": {"type": "point", "shape": "circle", "filled": true, "size": 32, "stroke": "#555", "strokeWidth": 0.6, "opacity": 1},
     "encoding": {
      "x": {"field": "x", "type": "quantitative", "scale": {"domain": [-0.1275, 0.1792], "nice": false, "zero": false}, "axis": {"title": "PCoA 1 (32.39%)", "values": [-0.1,0,0.1], "format": ".1f", "labelFontSize": 8, "titleFontSize": 10.5, "titlePadding": 1}},
      "y": {"field": "y", "type": "quantitative", "scale": {"domain": [-0.1151, 0.1204], "nice": false, "zero": false}, "axis": {"title": "PCoA 2 (19.67%)", "values": [-0.1,-0.05,0,0.05,0.1], "format": ".2f", "labelFontSize": 8, "titleFontSize": 10.5, "minExtent": 39, "maxExtent": 39}},
      "fill": {"field": "grp", "type": "nominal", "scale": {"domain": ["CK","2A-7"], "range": ["#f03030","#f0a838"]}, "legend": null}}},
    {"data": {"name": "ell"}, "transform": [{"filter": "datum.p == 'E'"}], "mark": {"type": "line", "interpolate": "cardinal-closed", "strokeOpacity": 0, "fillOpacity": 0.58},
     "encoding": {"x": {"field": "x", "type": "quantitative"}, "y": {"field": "y", "type": "quantitative"}, "fill": {"field": "grp", "type": "nominal", "legend": null}, "order": {"field": "k", "type": "quantitative"}}},
    {"data": {"name": "ldr"}, "transform": [{"filter": "datum.p == 'E'"}], "mark": {"type": "line", "stroke": "#222", "strokeWidth": 0.8},
     "encoding": {"x": {"field": "x", "type": "quantitative"}, "y": {"field": "y", "type": "quantitative"}, "detail": {"field": "g"}, "order": {"field": "k", "type": "quantitative"}}},
    {"data": {"name": "lab"}, "transform": [{"filter": "datum.p == 'E'"}], "mark": {"type": "text", "fontSize": 10, "fontWeight": "bold"}, "encoding": {"x": {"field": "x", "type": "quantitative"}, "y": {"field": "y", "type": "quantitative"}, "text": {"field": "t"}}},
    {"data": {"name": "ttl"}, "transform": [{"filter": "datum.p == 'E'"}], "mark": {"type": "text", "align": "left", "baseline": "alphabetic", "dx": -30, "dy": -1, "fontSize": 29}, "encoding": {"x": {"datum": -0.1275, "type": "quantitative"}, "y": {"datum": 0.1204, "type": "quantitative"}, "text": {"field": "L"}}},
    {"data": {"name": "ttl"}, "transform": [{"filter": "datum.p == 'E'"}], "mark": {"type": "text", "align": "left", "baseline": "alphabetic", "dy": -4, "fontSize": 13.5}, "encoding": {"x": {"datum": -0.1275, "type": "quantitative"}, "y": {"datum": 0.1204, "type": "quantitative"}, "text": {"field": "st"}}},
    {"data": {"name": "ttl"}, "transform": [{"filter": "datum.p == 'E'"}], "mark": {"type": "text", "align": "right", "baseline": "alphabetic", "dy": -4, "dx": -26.4, "fontSize": 10}, "encoding": {"x": {"datum": 0.1792, "type": "quantitative"}, "y": {"datum": 0.1204, "type": "quantitative"}, "text": {"field": "a1"}}},
    {"data": {"name": "ttl"}, "transform": [{"filter": "datum.p == 'E'"}], "mark": {"type": "text", "align": "right", "baseline": "alphabetic", "dy": -4, "dx": -17.8, "fontSize": 10, "fontStyle": "italic"}, "encoding": {"x": {"datum": 0.1792, "type": "quantitative"}, "y": {"datum": 0.1204, "type": "quantitative"}, "text": {"field": "pp"}}},
    {"data": {"name": "ttl"}, "transform": [{"filter": "datum.p == 'E'"}], "mark": {"type": "text", "align": "right", "baseline": "alphabetic", "dy": -4, "fontSize": 10}, "encoding": {"x": {"datum": 0.1792, "type": "quantitative"}, "y": {"datum": 0.1204, "type": "quantitative"}, "text": {"field": "a3"}}}
   ]},
  {"width": 191, "height": 211,
   "layer": [
    {"data": {"name": "sp"}, "transform": [{"filter": "datum.p == 'F'"}], "mark": {"type": "point", "shape": "circle", "filled": true, "size": 32, "stroke": "#555", "strokeWidth": 0.6, "opacity": 1},
     "encoding": {
      "x": {"field": "x", "type": "quantitative", "scale": {"domain": [-0.1474, 0.1542], "nice": false, "zero": false}, "axis": {"title": "PCoA 1 (30.14%)", "values": [-0.1,-0.05,0,0.05,0.1], "format": ".2f", "labelFontSize": 8, "titleFontSize": 10.5, "titlePadding": 1}},
      "y": {"field": "y", "type": "quantitative", "scale": {"domain": [-0.1448, 0.1005], "nice": false, "zero": false}, "axis": {"title": "PCoA 2 (20.38%)", "values": [-0.1,-0.05,0,0.05,0.1], "format": ".2f", "labelFontSize": 8, "titleFontSize": 10.5, "minExtent": 26, "maxExtent": 26}},
      "fill": {"field": "grp", "type": "nominal", "scale": {"domain": ["CK","2A-7"], "range": ["#f03030","#f0a838"]}, "legend": null}}},
    {"data": {"name": "ell"}, "transform": [{"filter": "datum.p == 'F'"}], "mark": {"type": "line", "interpolate": "cardinal-closed", "strokeOpacity": 0, "fillOpacity": 0.58},
     "encoding": {"x": {"field": "x", "type": "quantitative"}, "y": {"field": "y", "type": "quantitative"}, "fill": {"field": "grp", "type": "nominal", "legend": null}, "order": {"field": "k", "type": "quantitative"}}},
    {"data": {"name": "ldr"}, "transform": [{"filter": "datum.p == 'F'"}], "mark": {"type": "line", "stroke": "#222", "strokeWidth": 0.8},
     "encoding": {"x": {"field": "x", "type": "quantitative"}, "y": {"field": "y", "type": "quantitative"}, "detail": {"field": "g"}, "order": {"field": "k", "type": "quantitative"}}},
    {"data": {"name": "lab"}, "transform": [{"filter": "datum.p == 'F'"}], "mark": {"type": "text", "fontSize": 10, "fontWeight": "bold"}, "encoding": {"x": {"field": "x", "type": "quantitative"}, "y": {"field": "y", "type": "quantitative"}, "text": {"field": "t"}}},
    {"data": {"name": "ttl"}, "transform": [{"filter": "datum.p == 'F'"}], "mark": {"type": "text", "align": "left", "baseline": "alphabetic", "dx": -30, "dy": -1, "fontSize": 29}, "encoding": {"x": {"datum": -0.1474, "type": "quantitative"}, "y": {"datum": 0.1005, "type": "quantitative"}, "text": {"field": "L"}}},
    {"data": {"name": "ttl"}, "transform": [{"filter": "datum.p == 'F'"}], "mark": {"type": "text", "align": "left", "baseline": "alphabetic", "dy": -4, "fontSize": 13.5}, "encoding": {"x": {"datum": -0.1474, "type": "quantitative"}, "y": {"datum": 0.1005, "type": "quantitative"}, "text": {"field": "st"}}},
    {"data": {"name": "ttl"}, "transform": [{"filter": "datum.p == 'F'"}], "mark": {"type": "text", "align": "right", "baseline": "alphabetic", "dy": -4, "dx": -26.4, "fontSize": 10}, "encoding": {"x": {"datum": 0.1542, "type": "quantitative"}, "y": {"datum": 0.1005, "type": "quantitative"}, "text": {"field": "a1"}}},
    {"data": {"name": "ttl"}, "transform": [{"filter": "datum.p == 'F'"}], "mark": {"type": "text", "align": "right", "baseline": "alphabetic", "dy": -4, "dx": -17.8, "fontSize": 10, "fontStyle": "italic"}, "encoding": {"x": {"datum": 0.1542, "type": "quantitative"}, "y": {"datum": 0.1005, "type": "quantitative"}, "text": {"field": "pp"}}},
    {"data": {"name": "ttl"}, "transform": [{"filter": "datum.p == 'F'"}], "mark": {"type": "text", "align": "right", "baseline": "alphabetic", "dy": -4, "fontSize": 10}, "encoding": {"x": {"datum": 0.1542, "type": "quantitative"}, "y": {"datum": 0.1005, "type": "quantitative"}, "text": {"field": "a3"}}}
   ]},
  {"width": 187, "height": 210,
   "layer": [
    {"data": {"name": "sp"}, "transform": [{"filter": "datum.p == 'G'"}], "mark": {"type": "point", "shape": "circle", "filled": true, "size": 32, "stroke": "#555", "strokeWidth": 0.6, "opacity": 1},
     "encoding": {
      "x": {"field": "x", "type": "quantitative", "scale": {"domain": [-0.2833, 0.1089], "nice": false, "zero": false}, "axis": {"title": "PCoA 1 (39.37%)", "values": [-0.2,-0.1,0,0.1], "format": ".1f", "labelFontSize": 8, "titleFontSize": 10.5, "titlePadding": 1}},
      "y": {"field": "y", "type": "quantitative", "scale": {"domain": [-0.1192, 0.195], "nice": false, "zero": false}, "axis": {"title": "PCoA 2 (21.1%)", "values": [-0.1,0,0.1], "format": ".1f", "labelFontSize": 8, "titleFontSize": 10.5, "labelPadding": 1, "titlePadding": 1, "minExtent": 17, "maxExtent": 17}},
      "fill": {"field": "grp", "type": "nominal", "scale": {"domain": ["CK","2A-7"], "range": ["#f03030","#f0a838"]}, "legend": null}}},
    {"data": {"name": "ell"}, "transform": [{"filter": "datum.p == 'G'"}], "mark": {"type": "line", "interpolate": "cardinal-closed", "strokeOpacity": 0, "fillOpacity": 0.58},
     "encoding": {"x": {"field": "x", "type": "quantitative"}, "y": {"field": "y", "type": "quantitative"}, "fill": {"field": "grp", "type": "nominal", "legend": null}, "order": {"field": "k", "type": "quantitative"}}},
    {"data": {"name": "ldr"}, "transform": [{"filter": "datum.p == 'G'"}], "mark": {"type": "line", "stroke": "#222", "strokeWidth": 0.8},
     "encoding": {"x": {"field": "x", "type": "quantitative"}, "y": {"field": "y", "type": "quantitative"}, "detail": {"field": "g"}, "order": {"field": "k", "type": "quantitative"}}},
    {"data": {"name": "lab"}, "transform": [{"filter": "datum.p == 'G'"}], "mark": {"type": "text", "fontSize": 10, "fontWeight": "bold"}, "encoding": {"x": {"field": "x", "type": "quantitative"}, "y": {"field": "y", "type": "quantitative"}, "text": {"field": "t"}}},
    {"data": {"name": "ttl"}, "transform": [{"filter": "datum.p == 'G'"}], "mark": {"type": "text", "align": "left", "baseline": "alphabetic", "dx": -25, "dy": -1, "fontSize": 29}, "encoding": {"x": {"datum": -0.2833, "type": "quantitative"}, "y": {"datum": 0.195, "type": "quantitative"}, "text": {"field": "L"}}},
    {"data": {"name": "ttl"}, "transform": [{"filter": "datum.p == 'G'"}], "mark": {"type": "text", "align": "left", "baseline": "alphabetic", "dy": -4, "fontSize": 13.5}, "encoding": {"x": {"datum": -0.2833, "type": "quantitative"}, "y": {"datum": 0.195, "type": "quantitative"}, "text": {"field": "st"}}},
    {"data": {"name": "ttl"}, "transform": [{"filter": "datum.p == 'G'"}], "mark": {"type": "text", "align": "right", "baseline": "alphabetic", "dy": -4, "dx": -26.4, "fontSize": 10}, "encoding": {"x": {"datum": 0.1089, "type": "quantitative"}, "y": {"datum": 0.195, "type": "quantitative"}, "text": {"field": "a1"}}},
    {"data": {"name": "ttl"}, "transform": [{"filter": "datum.p == 'G'"}], "mark": {"type": "text", "align": "right", "baseline": "alphabetic", "dy": -4, "dx": -17.8, "fontSize": 10, "fontStyle": "italic"}, "encoding": {"x": {"datum": 0.1089, "type": "quantitative"}, "y": {"datum": 0.195, "type": "quantitative"}, "text": {"field": "pp"}}},
    {"data": {"name": "ttl"}, "transform": [{"filter": "datum.p == 'G'"}], "mark": {"type": "text", "align": "right", "baseline": "alphabetic", "dy": -4, "fontSize": 10}, "encoding": {"x": {"datum": 0.1089, "type": "quantitative"}, "y": {"datum": 0.195, "type": "quantitative"}, "text": {"field": "a3"}}}
   ]},
  {"width": 193, "height": 212,
   "layer": [
    {"data": {"name": "sp"}, "transform": [{"filter": "datum.p == 'H'"}], "mark": {"type": "point", "shape": "circle", "filled": true, "size": 32, "stroke": "#555", "strokeWidth": 0.6, "opacity": 1},
     "encoding": {
      "x": {"field": "x", "type": "quantitative", "scale": {"domain": [-0.1824, 0.0943], "nice": false, "zero": false}, "axis": {"title": "PCoA 1 (33.3%)", "values": [-0.1,0], "format": ".1f", "labelFontSize": 8, "titleFontSize": 10.5, "titlePadding": 1}},
      "y": {"field": "y", "type": "quantitative", "scale": {"domain": [-0.1056, 0.0934], "nice": false, "zero": false}, "axis": {"title": "PCoA 2 (19.11%)", "values": [-0.1,-0.05,0,0.05], "format": ".2f", "labelFontSize": 8, "titleFontSize": 10.5, "minExtent": 26, "maxExtent": 26}},
      "fill": {"field": "grp", "type": "nominal", "scale": {"domain": ["CK","2A-7"], "range": ["#f03030","#f0a838"]}, "legend": null}}},
    {"data": {"name": "ell"}, "transform": [{"filter": "datum.p == 'H'"}], "mark": {"type": "line", "interpolate": "cardinal-closed", "strokeOpacity": 0, "fillOpacity": 0.58},
     "encoding": {"x": {"field": "x", "type": "quantitative"}, "y": {"field": "y", "type": "quantitative"}, "fill": {"field": "grp", "type": "nominal", "legend": null}, "order": {"field": "k", "type": "quantitative"}}},
    {"data": {"name": "ldr"}, "transform": [{"filter": "datum.p == 'H'"}], "mark": {"type": "line", "stroke": "#222", "strokeWidth": 0.8},
     "encoding": {"x": {"field": "x", "type": "quantitative"}, "y": {"field": "y", "type": "quantitative"}, "detail": {"field": "g"}, "order": {"field": "k", "type": "quantitative"}}},
    {"data": {"name": "lab"}, "transform": [{"filter": "datum.p == 'H'"}], "mark": {"type": "text", "fontSize": 10, "fontWeight": "bold"}, "encoding": {"x": {"field": "x", "type": "quantitative"}, "y": {"field": "y", "type": "quantitative"}, "text": {"field": "t"}}},
    {"data": {"name": "ttl"}, "transform": [{"filter": "datum.p == 'H'"}], "mark": {"type": "text", "align": "left", "baseline": "alphabetic", "dx": -28, "dy": -1, "fontSize": 29}, "encoding": {"x": {"datum": -0.1824, "type": "quantitative"}, "y": {"datum": 0.0934, "type": "quantitative"}, "text": {"field": "L"}}},
    {"data": {"name": "ttl"}, "transform": [{"filter": "datum.p == 'H'"}], "mark": {"type": "text", "align": "left", "baseline": "alphabetic", "dy": -4, "fontSize": 13.5}, "encoding": {"x": {"datum": -0.1824, "type": "quantitative"}, "y": {"datum": 0.0934, "type": "quantitative"}, "text": {"field": "st"}}},
    {"data": {"name": "ttl"}, "transform": [{"filter": "datum.p == 'H'"}], "mark": {"type": "text", "align": "right", "baseline": "alphabetic", "dy": -4, "dx": -26.4, "fontSize": 10}, "encoding": {"x": {"datum": 0.0943, "type": "quantitative"}, "y": {"datum": 0.0934, "type": "quantitative"}, "text": {"field": "a1"}}},
    {"data": {"name": "ttl"}, "transform": [{"filter": "datum.p == 'H'"}], "mark": {"type": "text", "align": "right", "baseline": "alphabetic", "dy": -4, "dx": -17.8, "fontSize": 10, "fontStyle": "italic"}, "encoding": {"x": {"datum": 0.0943, "type": "quantitative"}, "y": {"datum": 0.0934, "type": "quantitative"}, "text": {"field": "pp"}}},
    {"data": {"name": "ttl"}, "transform": [{"filter": "datum.p == 'H'"}], "mark": {"type": "text", "align": "right", "baseline": "alphabetic", "dy": -4, "fontSize": 10}, "encoding": {"x": {"datum": 0.0943, "type": "quantitative"}, "y": {"datum": 0.0934, "type": "quantitative"}, "text": {"field": "a3"}}}
   ]}
 ], "spacing": 2, "resolve": {"scale": {"fill": "independent"}, "legend": {"fill": "independent"}}}
]
}
